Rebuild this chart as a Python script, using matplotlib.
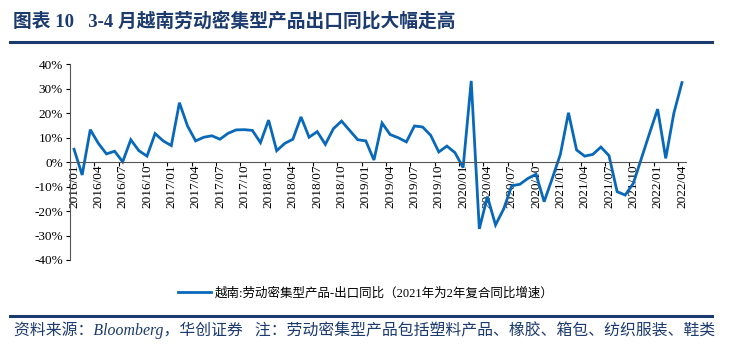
import numpy as np
import matplotlib
matplotlib.use('Agg')
import matplotlib.pyplot as plt
from matplotlib.lines import Line2D

plt.rcParams['font.family'] = ['Liberation Serif', 'Noto Sans CJK SC', 'DejaVu Sans']

# monthly data 2016/01 - 2022/04, %
months = [f'{y}/{m:02d}' for y in range(2016, 2023) for m in range(1, 13)][:76]
yoy = [5.2, -5.3, 13.2, 7.6, 3.3, 4.4, 0.1, 9.1, 4.6, 2.4, 11.6, 8.6,
       6.7, 24.2, 14.7, 8.6, 10.1, 10.7, 9.3, 11.7, 13.1, 13.2, 12.9, 7.9,
       17.1, 4.6, 7.6, 9.3, 18.4, 10.1, 12.4, 7.2, 13.6, 16.7, 12.9, 9.1,
       8.6, 0.8, 15.9, 11.2, 9.9, 8.2, 14.7, 14.3, 10.9, 4.1, 6.5, 3.8,
       -2.3, 33.1, -27.3, -14.1, -25.7, -19.2, -9.7, -9.1, -6.7, -5.0, -16.2, -6.7,
       3.1, 20.1, 4.9, 2.4, 3.1, 6.1, 2.6, -12.1, -13.5, -8.7, 1.5, 11.7,
       21.6, 1.5, 19.9, 32.4]
yticks = [-40, -30, -20, -10, 0, 10, 20, 30, 40]
legend_label = '越南:劳动密集型产品-出口同比（2021年为2年复合同比增速）'
title = '图表 10   3-4 月越南劳动密集型产品出口同比大幅走高'
source = '资料来源：Bloomberg，华创证券   注：劳动密集型产品包括塑料产品、橡胶、箱包、纺织服装、鞋类'

navy = '#1B3A6E'
blue = '#0868BA'

fig = plt.figure(figsize=(7.4, 3.62), dpi=100)
ax = fig.add_axes([70/740, 1-260/362, 616/740, 196/362])

x = np.arange(len(yoy))
ax.plot(x, yoy, color=blue, lw=2.0, solid_joinstyle='miter')

ax.set_ylim(-40, 40)
ax.set_xlim(-0.5, len(yoy) - 0.5)
ax.set_yticks(yticks)
ax.set_yticklabels([f'{t}%' for t in yticks], fontsize=9.5)
ax.tick_params(axis='y', length=3, width=0.8, direction='out', pad=2)

ax.spines['top'].set_visible(False)
ax.spines['right'].set_visible(False)
ax.spines['bottom'].set_position(('data', 0))
ax.spines['left'].set_color('#555555')
ax.spines['bottom'].set_color('#555555')

# tick marks at category borders, labels at category centres
ax.set_xticks(np.arange(0, len(yoy), 3) - 0.5)
ax.set_xticklabels([])
ax.tick_params(axis='x', which='major', length=3, width=0.8, direction='out')
ax.set_xticks(np.arange(0, len(yoy), 3), minor=True)
ax.set_xticklabels(months[::3], minor=True, rotation=90, fontsize=9.5)
ax.tick_params(axis='x', which='minor', length=0, pad=2)

# legend
handle = Line2D([], [], color=blue, lw=2.0)
fig.legend([handle], [legend_label], loc='center', bbox_to_anchor=(366/740, 1-293/362),
           frameon=False, fontsize=9, handlelength=2.6, handletextpad=0.3)

# title and footer
fig.text(13/740, 1-22/362, title, fontsize=13.5, fontweight='bold', color=navy,
         va='center', ha='left')
fig.add_artist(Line2D([10/740, 712/740], [1-42/362, 1-42/362], color=navy, lw=2.2))
fig.add_artist(Line2D([10/740, 712/740], [1-316/362, 1-316/362], color=navy, lw=2.2))
fig.text(14/740, 1-330/362, source, fontsize=11.4, style='italic', color=navy,
         va='center', ha='left')

fig.savefig('out.png', dpi=100)
